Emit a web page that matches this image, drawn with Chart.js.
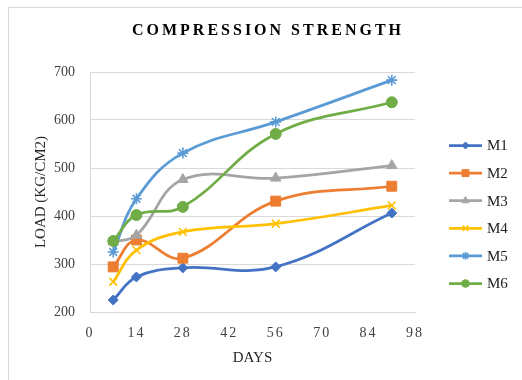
<!DOCTYPE html>
<html>
<head>
<meta charset="utf-8">
<script src="https://cdn.jsdelivr.net/npm/chart.js@4.4.0/dist/chart.umd.min.js"></script>
<style>
  html, body { margin: 0; padding: 0; background: #fff; }
</style>
</head>
<body>
<canvas id="myChart" width="522" height="380"></canvas>
<script>
// datos
const dias = [7, 14, 28, 56, 91]
const m1 = [225, 273, 292, 294, 406]
const m2 = [294, 350, 312, 431, 462]
const m3 = [346, 360, 476, 479, 505]
const m4 = [263, 329, 367, 384, 422]
const m5 = [325, 436, 531, 596, 683]
const m6 = [348, 402, 419, 571, 637]
const nombres = ["M1", "M2", "M3", "M4", "M5", "M6"]
const xTicks = [0, 14, 28, 42, 56, 70, 84, 98]
const yTicks = [200, 300, 400, 500, 600, 700]

const series = [m1, m2, m3, m4, m5, m6]
const colores = ["#4472C4", "#ED7D31", "#A5A5A5", "#FFC000", "#5B9BD5", "#70AD47"]
const estilos = ["rectRot", "rect", "triangle", "crossRot", "star", "circle"]
const radios = [5, 7, 6, 5.5, 5.5, 5.5]

const fuente = "'Liberation Serif', 'Times New Roman', serif"

const datasets = series.map((valores, i) => ({
    label: nombres[i],
    data: dias.map((d, j) => ({ x: d, y: valores[j] })),
    borderColor: colores[i],
    backgroundColor: colores[i],
    pointBackgroundColor: colores[i],
    pointBorderColor: colores[i],
    pointStyle: estilos[i],
    pointRadius: radios[i],
    pointHoverRadius: radios[i],
    pointBorderWidth: (estilos[i] === "crossRot" || estilos[i] === "star") ? 1.6 : 1,
    borderWidth: 2.75,
    tension: 0.4,
    order: 6 - i
}))

// marco, titulo y leyenda
const extras = {
    id: "extras",
    beforeDraw(chart) {
        const ctx = chart.ctx
        ctx.save()
        ctx.strokeStyle = "#d9d9d9"
        ctx.lineWidth = 1
        ctx.beginPath()
        ctx.moveTo(8.5, 380)
        ctx.lineTo(8.5, 7.5)
        ctx.lineTo(522, 7.5)
        ctx.stroke()
        ctx.restore()
    },
    afterDraw(chart) {
        const ctx = chart.ctx
        ctx.save()
        ctx.fillStyle = "#000"
        ctx.font = "bold 16px " + fuente
        ctx.letterSpacing = "3px"
        ctx.textAlign = "center"
        ctx.textBaseline = "middle"
        ctx.fillText("COMPRESSION STRENGTH", 268, 31)
        ctx.restore()

        chart.data.datasets.forEach((ds, i) => {
            const y = 145.5 + i * 27.6
            ctx.save()
            ctx.strokeStyle = ds.borderColor
            ctx.lineWidth = 2.75
            ctx.beginPath()
            ctx.moveTo(449, y)
            ctx.lineTo(482, y)
            ctx.stroke()
            ctx.fillStyle = ds.borderColor
            ctx.lineWidth = ds.pointBorderWidth
            Chart.helpers.drawPoint(ctx, {
                pointStyle: ds.pointStyle,
                radius: ds.pointRadius * 0.7,
                rotation: 0,
                borderWidth: ds.pointBorderWidth
            }, 465.5, y)
            ctx.fillStyle = "#222"
            ctx.font = "15px " + fuente
            ctx.textAlign = "left"
            ctx.textBaseline = "middle"
            ctx.fillText(ds.label, 487, y + 1)
            ctx.restore()
        })
    }
}

new Chart(document.getElementById("myChart"), {
    type: "line",
    data: { datasets: datasets },
    options: {
        responsive: false,
        animation: false,
        events: [],
        layout: { padding: { top: 72, right: 107, left: 0, bottom: 0 } },
        plugins: {
            legend: { display: false },
            title: { display: false },
            tooltip: { enabled: false }
        },
        scales: {
            x: {
                type: "linear",
                min: 0,
                max: 98,
                afterBuildTicks: (scale) => { scale.ticks = xTicks.map(v => ({ value: v })) },
                afterFit: (scale) => { scale.height = 68 },
                afterUpdate: (scale) => {
                    if (scale._espaciado) return
                    const original = scale.drawLabels.bind(scale)
                    scale.drawLabels = function (area) {
                        scale.ctx.save()
                        scale.ctx.letterSpacing = "2px"
                        original(area)
                        scale.ctx.restore()
                    }
                    scale._espaciado = true
                },
                grid: { display: false },
                border: { display: true, color: "#d9d9d9", width: 1 },
                ticks: {
                    padding: 5,
                    color: "#404040",
                    font: { family: fuente, size: 14 }
                },
                title: {
                    display: true,
                    text: "DAYS",
                    color: "#262626",
                    font: { family: fuente, size: 15 },
                    padding: { top: 0, bottom: 13 }
                }
            },
            y: {
                min: 200,
                max: 700,
                afterBuildTicks: (scale) => { scale.ticks = yTicks.map(v => ({ value: v })) },
                afterFit: (scale) => { scale.width = 90 },
                grid: { color: "#d9d9d9", lineWidth: 1, drawTicks: false },
                border: { display: true, color: "#d9d9d9", width: 1 },
                ticks: {
                    padding: 15,
                    color: "#404040",
                    font: { family: fuente, size: 14 }
                },
                title: {
                    display: true,
                    text: "LOAD (KG/CM2)",
                    color: "#262626",
                    font: { family: fuente, size: 15 },
                    padding: { top: 32, bottom: 0 }
                }
            }
        }
    },
    plugins: [extras]
})
</script>
</body>
</html>
